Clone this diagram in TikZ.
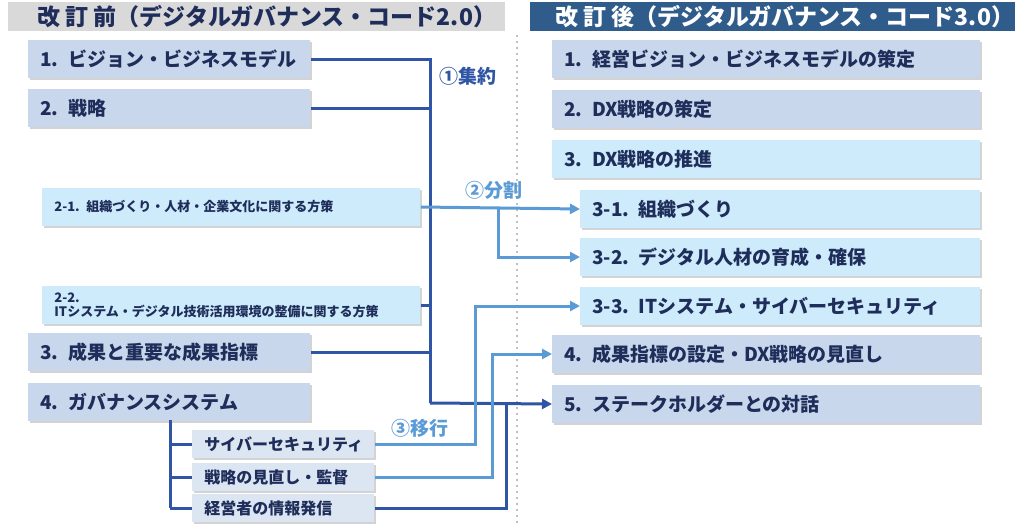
\documentclass[tikz,border=0pt]{standalone}
\usepackage{fontspec}
\setmainfont{Noto Sans CJK JP}
\usetikzlibrary{shadows,arrows.meta}
\definecolor{navy}{HTML}{1F2D5A}
\definecolor{hdrblue}{HTML}{2F5C8A}
\definecolor{boxgray}{HTML}{C9D7EC}
\definecolor{boxlight}{HTML}{CDEBFA}
\definecolor{subgray}{HTML}{DCE5F2}
\definecolor{lnDark}{HTML}{2F55A4}
\definecolor{lnLight}{HTML}{5B9BD5}
\tikzset{
  item/.style={rectangle, anchor=west, minimum height=19pt, inner xsep=6pt, text=navy, font=\bfseries\fontsize{9.5}{10}\selectfont, drop shadow={opacity=0.35, shadow xshift=1pt, shadow yshift=-1pt}},
  bigitem/.style={item, fill=boxgray, minimum width=141pt, text width=129pt},
  lightitem/.style={item, fill=boxlight},
  smallitem/.style={item, fill=boxlight, minimum width=189pt, text width=177pt, font=\bfseries\fontsize{6.5}{7}\selectfont},
  subitem/.style={item, fill=subgray, minimum width=91pt, minimum height=14pt, text width=79pt, font=\bfseries\fontsize{8}{9}\selectfont},
  darkline/.style={lnDark, line width=1.5pt},
  lightline/.style={lnLight, line width=1.5pt},
  tip/.style={-{Triangle[length=5pt,width=5pt]}}
}
\begin{document}
\begin{tikzpicture}[x=0.5pt,y=-0.5pt]
\useasboundingbox (0,0) rectangle (1024,525);
% headers
\fill[gray!30] (8,2) rectangle (505,31);
\node[text=navy, font=\bfseries\fontsize{11.5}{12}\selectfont, anchor=west] (hdrOld) at (30,17) {改 訂 前（デジタルガバナンス・コード2.0）};
\fill[hdrblue] (530,2) rectangle (1015,31);
\node[text=white, font=\bfseries\fontsize{11.5}{12}\selectfont, anchor=west] (hdrNew) at (548,17) {改 訂 後（デジタルガバナンス・コード3.0）};
\draw[gray!50, dotted, line width=1pt] (517,35) -- (517,525);

% left items
\node[bigitem] (oldOne) at (28,59) {1. ビジョン・ビジネスモデル};
\node[bigitem] (oldTwo) at (28,108) {2. 戦略};
\node[smallitem] (oldTwoA) at (42,207) {2-1. 組織づくり・人材・企業文化に関する方策};
\node[smallitem] (oldTwoB) at (42,305) {2-2. ITシステム・デジタル技術活用環境の整備に関する方策};
\node[bigitem] (oldThree) at (28,352) {3. 成果と重要な成果指標};
\node[bigitem] (oldFour) at (28,402) {4. ガバナンスシステム};
\node[subitem] (subCyber) at (192,444) {サイバーセキュリティ};
\node[subitem] (subReview) at (192,477) {戦略の見直し・監督};
\node[subitem] (subInfo) at (192,508) {経営者の情報発信};

% right items
\node[bigitem, minimum width=214pt, text width=202pt] (newOne) at (552,59) {1. 経営ビジョン・ビジネスモデルの策定};
\node[bigitem, minimum width=214pt, text width=202pt] (newTwo) at (552,109) {2. DX戦略の策定};
\node[lightitem, minimum width=214pt, text width=202pt] (newThree) at (552,159) {3. DX戦略の推進};
\node[lightitem, minimum width=200pt, text width=188pt] (newThreeA) at (580,209) {3-1. 組織づくり};
\node[lightitem, minimum width=200pt, text width=188pt] (newThreeB) at (580,257) {3-2. デジタル人材の育成・確保};
\node[lightitem, minimum width=200pt, text width=188pt] (newThreeC) at (580,306) {3-3. ITシステム・サイバーセキュリティ};
\node[bigitem, minimum width=214pt, text width=202pt] (newFour) at (552,354) {4. 成果指標の設定・DX戦略の見直し};
\node[bigitem, minimum width=214pt, text width=202pt] (newFive) at (552,404) {5. ステークホルダーとの対話};

% labels
\node[text=lnDark, font=\bfseries\fontsize{9.5}{10}\selectfont] (lblMerge) at (468,76) {①集約};
\node[text=lnLight, font=\bfseries\fontsize{9.5}{10}\selectfont] (lblSplit) at (494,190) {②分割};
\node[text=lnLight, font=\bfseries\fontsize{9.5}{10}\selectfont] (lblMove) at (420,428) {③移行};

% merge edges
\draw[darkline] (oldOne.east) -| (430,403);
\draw[darkline] (oldTwo.east) -- (oldTwo.east -| 430,0);
\draw[darkline] (oldTwoB.east) -- (oldTwoB.east -| 430,0);
\draw[darkline] (oldThree.east) -- (oldThree.east -| 430,0);
\draw[darkline, tip] (430,403) -- (newFive.west);

% split edges
\draw[lightline, tip] (oldTwoA.east) -- (newThreeA.west);
\draw[lightline, tip] (498,209) |- (newThreeB.west);

% move edges
\draw[darkline] (170,420) -- (170,508);
\foreach \s in {subCyber,subReview,subInfo} \draw[darkline] (\s.west) -- (\s.west -| 170,0);
\draw[lightline, tip] (subCyber.east) -| (475,306) -- (newThreeC.west);
\draw[lightline, tip] (subReview.east) -| (492,354) -- (newFour.west);
\draw[darkline] (subInfo.east) -| (506,403);
\end{tikzpicture}
\end{document}
